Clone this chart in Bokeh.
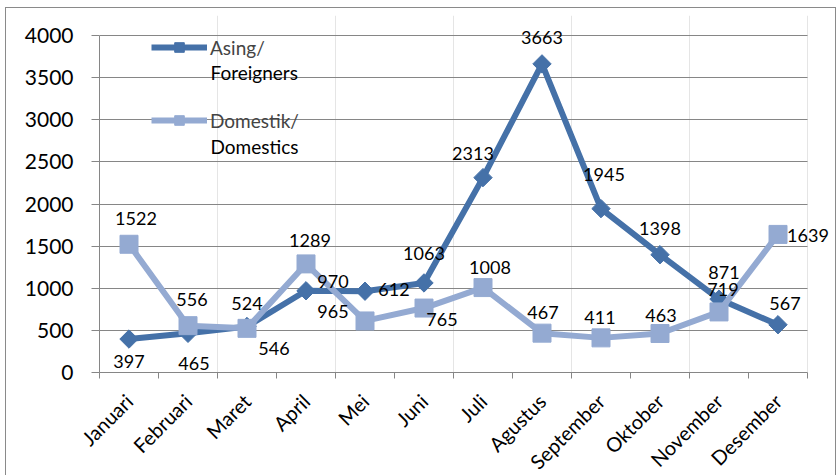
import math
from bokeh.plotting import figure
from bokeh.models import (ColumnDataSource, Range1d, LinearAxis,
                          FixedTicker, Legend, LegendItem, Label)
from bokeh.embed import file_html
from bokeh.resources import INLINE

months = ["Januari", "Februari", "Maret", "April", "Mei", "Juni", "Juli",
          "Agustus", "September", "Oktober", "November", "Desember"]
asing = [397, 465, 546, 970, 965, 1063, 2313, 3663, 1945, 1398, 871, 567]
domestik = [1522, 556, 524, 1289, 612, 765, 1008, 467, 411, 463, 719, 1639]
y_ticks = [0, 500, 1000, 1500, 2000, 2500, 3000, 3500, 4000]

FONT = "Lato"
DARK = "#4571A8"
LIGHT = "#94AAD2"
GRID = "#868686"

# category slots: each month occupies one unit, point at the slot centre
n = len(months)
centres = [i + 0.5 for i in range(n)]

# label offsets (screen px, +down) emulating the hand-placed Excel data labels
asing_dx = [0, 6, 27, 27, -32, 0, -10, 0, 3, 0, 5, 7]
asing_dy = [22, 30, 22, -9, 20, -29, -24, -26, -34, -26, -27, -21]
dom_dx = [7, 4, 0, 4, 29, 18, 7, 1, -1, 1, 4, 30]
dom_dy = [-26, -26, -25, -23, -31, 11, -20, -21, -20, -18, -22, 1]

src_a = ColumnDataSource(dict(x=centres, y=asing))
src_d = ColumnDataSource(dict(x=centres, y=domestik))

# The drawing frame is a little larger than the visible axes box (which spans
# 708 x 337 px) so that data labels may overflow it as in the Excel original.
AX_W, AX_H = 708, 337
FR_W, FR_H = 737, 357
p = figure(frame_width=FR_W, frame_height=FR_H,
           output_backend="svg", toolbar_location=None,
           x_range=Range1d(0, n * FR_W / AX_W),
           y_range=Range1d(0, y_ticks[-1] * FR_H / AX_H),
           x_axis_location=None,
           min_border_left=99, min_border_top=15, min_border_right=0,
           min_border_bottom=100)
p.outline_line_color = None
p.border_fill_alpha = 0
p.background_fill_alpha = 0
line_img = "linear-gradient(#8a8a8a,#8a8a8a)"
p.styles = {"background": (f"{line_img} 5px 7px / 1px 100% no-repeat, "
                           f"{line_img} 5px 7px / 831px 1px no-repeat, "
                           f"{line_img} 835px 7px / 1px 100% no-repeat, white")}

# y axis
yax = p.yaxis[0]
yax.ticker = FixedTicker(ticks=y_ticks)
yax.bounds = (0, y_ticks[-1])
yax.axis_line_color = GRID
yax.major_tick_line_color = GRID
yax.major_tick_out = 8
yax.major_tick_in = 0
yax.minor_tick_line_color = None
yax.major_label_text_font = FONT
yax.major_label_text_font_size = "21px"
yax.major_label_text_color = "black"
yax.major_label_standoff = 18
p.ygrid.grid_line_color = GRID
p.ygrid.ticker = FixedTicker(ticks=y_ticks)
p.ygrid.cross_bounds = (0, n)

# x axis: tick marks at category boundaries, labels at category centres
bounds = list(range(n + 1))
tick_axis = LinearAxis(ticker=FixedTicker(ticks=bounds), bounds=(0, n),
                       major_label_overrides={b: "" for b in bounds},
                       major_label_text_font_size="1px", major_label_standoff=0,
                       major_tick_out=6, major_tick_in=0,
                       minor_tick_line_color=None,
                       axis_line_color=GRID, major_tick_line_color=GRID)
p.add_layout(tick_axis, "below")
cat_axis = LinearAxis(ticker=FixedTicker(ticks=centres),
                      major_label_overrides={c: m for c, m in zip(centres, months)},
                      axis_line_color=None, major_tick_line_color=None,
                      minor_tick_line_color=None,
                      major_label_orientation=math.pi / 4,
                      major_label_text_font=FONT,
                      major_label_text_font_size="20px",
                      major_label_text_color="black",
                      major_label_standoff=13)
p.add_layout(cat_axis, "below")

# series
la = p.line("x", "y", source=src_a, line_color=DARK, line_width=6)
ma = p.scatter("x", "y", source=src_a, marker="square", angle=math.pi / 4,
               size=13, fill_color=DARK, line_color=DARK)
ld = p.line("x", "y", source=src_d, line_color=LIGHT, line_width=6)
md = p.scatter("x", "y", source=src_d, marker="square", size=18,
               fill_color=LIGHT, line_color=LIGHT)

# data labels
for vals, dxs, dys in ((asing, asing_dx, asing_dy), (domestik, dom_dx, dom_dy)):
    for xc, v, dx, dy in zip(centres, vals, dxs, dys):
        p.add_layout(Label(x=xc, y=v, text=str(v), x_offset=dx, y_offset=-dy,
                           text_align="center", text_baseline="middle",
                           text_font=FONT, text_font_size="18px",
                           text_color="black"))

legend = Legend(items=[LegendItem(label="Asing/", renderers=[la, ma]),
                       LegendItem(label="Domestik/", renderers=[ld, md])],
                location=(52, 240), padding=0, margin=0, spacing=49,
                glyph_width=56, glyph_height=24, label_height=24,
                label_standoff=3, border_line_color=None,
                background_fill_alpha=0,
                label_text_font=FONT, label_text_font_size="19px")
p.add_layout(legend, "center")
for txt, yy in (("Foreigners", 300), ("Domestics", 226)):
    p.add_layout(Label(x=111, y=yy, x_units="screen", y_units="screen",
                       text=txt, text_baseline="middle", text_align="left",
                       text_font=FONT, text_font_size="19px",
                       text_color="black"))

open("out.html", "w").write(file_html(p, INLINE))
